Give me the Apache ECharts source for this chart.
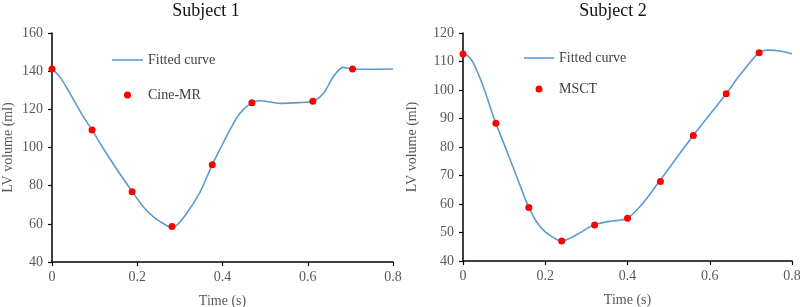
<!DOCTYPE html>
<html>
<head>
<meta charset="utf-8">
<script src="https://cdn.jsdelivr.net/npm/echarts@6/dist/echarts.min.js"></script>
<style>html,body{margin:0;padding:0;background:#fff;}#c{width:800px;height:307px;}</style>
</head>
<body>
<div id="c"></div>
<script>
// Subject 1 (Cine-MR)
const s1Curve = [
  [0,141.3],[0.02,136.5],[0.042,128.4],[0.073,116.3],[0.094,109.2],[0.12,99.6],[0.152,88.6],
  [0.188,77],[0.214,69],[0.238,63.7],[0.261,60.2],[0.276,58.5],[0.29,58.9],[0.316,65.5],[0.347,76.5],
  [0.376,91],[0.394,99],[0.418,109.5],[0.441,117.9],[0.469,123.5],[0.488,124.5],[0.535,123.1],
  [0.58,123.5],[0.612,124.2],[0.637,128.4],[0.66,137.1],[0.683,142],[0.705,141.1],[0.738,141],[0.8,141.1]
];
const s1Points = [[0,141.1],[0.094,109.2],[0.188,76.8],[0.2815,58.6],[0.376,91],[0.469,123.4],[0.612,124.2],[0.705,141.1]];
// Subject 2 (MSCT)
const s2Curve = [
  [0,112.7],[0.012,112.0],[0.025,109.5],[0.049,101.3],[0.0795,88.4],[0.10,81.0],[0.12,73.6],[0.14,66.0],[0.157,59.8],
  [0.18,53.5],[0.20,50.2],[0.22,48.2],[0.239,47.0],[0.276,49.2],[0.319,52.7],[0.357,53.9],[0.40,55],[0.438,60.4],[0.477,67.9],
  [0.56,84],[0.64,98.7],[0.674,105.4],[0.72,113.1],[0.742,114.0],[0.771,113.7],[0.8,112.7]
];
const s2Points = [[0,112.6],[0.08,88.3],[0.16,58.8],[0.24,47],[0.32,52.6],[0.40,55],[0.48,67.9],[0.56,84],[0.64,98.7],[0.72,113.1]];
const xTicks = {min:0, max:0.8, interval:0.2};
const y1Ticks = {min:40, max:160, interval:20};
const y2Ticks = {min:40, max:120, interval:10};

const FONT = '"Liberation Serif", "Times New Roman", serif';
const axisCommon = {
  axisLine:{show:true, onZero:false, lineStyle:{color:'#000', width:1.5}},
  axisTick:{show:true, inside:false, length:4, lineStyle:{color:'#000', width:1.2}},
  axisLabel:{color:'#595959', fontFamily:FONT, fontSize:14},
  splitLine:{show:false},
  nameTextStyle:{color:'#595959', fontFamily:FONT, fontSize:14}
};
function xAx(gi){
  return Object.assign({}, axisCommon, {type:'value', gridIndex:gi, min:xTicks.min, max:xTicks.max, interval:xTicks.interval,
    name:'Time (s)', nameLocation:'middle', nameGap:32, axisLabel:Object.assign({}, axisCommon.axisLabel, {margin:8})});
}
function yAx(gi, t, gap){
  return Object.assign({}, axisCommon, {type:'value', gridIndex:gi, min:t.min, max:t.max, interval:t.interval,
    name:'LV volume (ml)', nameLocation:'middle', nameGap:gap, nameRotate:90, axisLabel:Object.assign({}, axisCommon.axisLabel, {margin:9})});
}
const lineColor = '#5B9BD5';
const lineIcon = 'path://M0,0 L31,0 L31,1.6 L0,1.6 Z';
const chart = echarts.init(document.getElementById('c'), null, {renderer:'canvas'});
chart.setOption({
  animation:false,
  backgroundColor:'#fff',
  title:[
    {text:'Subject 1', left:206, top:2, padding:0, textAlign:'center', textStyle:{fontFamily:FONT, fontSize:18, fontWeight:'normal', color:'#111'}},
    {text:'Subject 2', left:613, top:2, padding:0, textAlign:'center', textStyle:{fontFamily:FONT, fontSize:18, fontWeight:'normal', color:'#111'}}
  ],
  legend:[
    {orient:'vertical', left:112, top:52, padding:0, itemWidth:31, itemHeight:7, itemGap:19,
      data:[{name:'Fitted curve', icon:lineIcon, itemStyle:{color:lineColor}},{name:'Cine-MR'}],
      textStyle:{fontFamily:FONT, fontSize:14, color:'#404040', lineHeight:16}},
    {orient:'vertical', left:524, top:50, padding:0, itemWidth:30, itemHeight:7, itemGap:15,
      data:[{name:'Fitted curve', icon:lineIcon, itemStyle:{color:lineColor}},{name:'MSCT'}],
      textStyle:{fontFamily:FONT, fontSize:14, color:'#404040', lineHeight:16}}
  ],
  grid:[
    {left:52, right:407, top:33, bottom:45, outerBoundsMode:'none', containLabel:false},
    {left:463, right:8, top:33, bottom:46, outerBoundsMode:'none', containLabel:false}
  ],
  xAxis:[xAx(0), xAx(1)],
  yAxis:[yAx(0, y1Ticks, 37), yAx(1, y2Ticks, 44)],
  series:[
    {name:'Fitted curve', type:'line', xAxisIndex:0, yAxisIndex:0, data:s1Curve, smooth:0.3, symbol:'none', showSymbol:false,
      lineStyle:{color:lineColor, width:1.6}, itemStyle:{color:lineColor}, z:2},
    {name:'Cine-MR', type:'scatter', xAxisIndex:0, yAxisIndex:0, data:s1Points, symbol:'circle', symbolSize:7,
      itemStyle:{color:'#FF0000', opacity:1}, z:3},
    {name:'Fitted curve', type:'line', xAxisIndex:1, yAxisIndex:1, data:s2Curve, smooth:0.3, symbol:'none', showSymbol:false,
      lineStyle:{color:lineColor, width:1.6}, itemStyle:{color:lineColor}, z:2},
    {name:'MSCT', type:'scatter', xAxisIndex:1, yAxisIndex:1, data:s2Points, symbol:'circle', symbolSize:7,
      itemStyle:{color:'#FF0000', opacity:1}, z:3}
  ]
});
</script>
</body>
</html>
